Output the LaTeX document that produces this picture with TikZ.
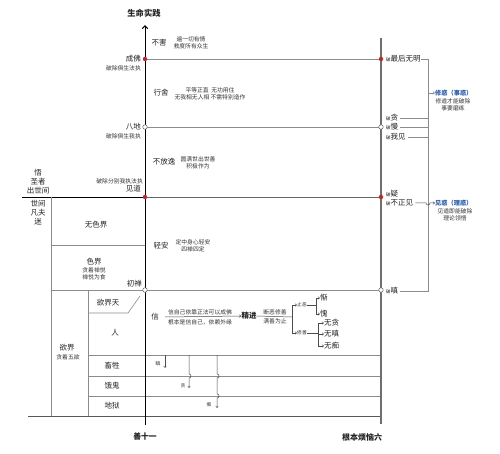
\documentclass[tikz,border=0pt]{standalone}
\usepackage{fontspec}
\setmainfont{Noto Sans CJK SC}
\usetikzlibrary{arrows.meta}
\definecolor{reddot}{HTML}{C0282D}
\definecolor{lineg}{HTML}{8C8C8C}
\definecolor{axisg}{HTML}{6E6E6E}
\definecolor{blu}{HTML}{2A5CA8}
\definecolor{txt}{HTML}{222222}
\newcommand{\pochar}{{\fontsize{4.5}{5}\selectfont 破}}
\begin{document}
\begin{tikzpicture}[x=1pt,y=-1pt,
  lbl/.style={font=\fontsize{7.5}{8.5}\selectfont, inner sep=0pt, text=txt},
  big/.style={font=\fontsize{8.3}{9}\selectfont\bfseries, inner sep=0pt, text=txt},
  sml/.style={font=\fontsize{5.8}{7.2}\selectfont, inner sep=0pt, align=center, text=black!80},
  tiny/.style={font=\fontsize{4.8}{5.5}\selectfont, inner sep=0pt, text=black!80},
  blab/.style={font=\fontsize{6.2}{7}\selectfont\bfseries, inner sep=0pt, text=blu},
  gline/.style={draw=lineg, line width=0.6pt},
  dline/.style={draw=black!65, line width=0.7pt},
  rdot/.style={circle, fill=reddot, inner sep=0pt, minimum size=4.5pt},
  wdot/.style={circle, draw=black!60, fill=white, inner sep=0pt, minimum size=4.5pt, line width=0.5pt},
  arr/.style={-{Straight Barb[length=1.6pt,width=2.6pt]}},
]
\fill[white] (0,0) rectangle (500,454);
\useasboundingbox (0,0) rectangle (500,454);

% ---------- key points ----------
\coordinate (axTop) at (145,25);
\coordinate (axBot) at (145,425);
\coordinate (rTop) at (381,38);
\coordinate (rBot) at (381,424);
\coordinate (pCF) at (145,59);   \coordinate (pCFr) at (381,59);
\coordinate (pBD) at (145,127);  \coordinate (pBDr) at (381,127);
\coordinate (pJDl) at (22,197);  \coordinate (pJD) at (145,197); \coordinate (pJDr) at (381,197);
\coordinate (pCCl) at (51,290);  \coordinate (pCC) at (145,290); \coordinate (pCCr) at (381,290);
\coordinate (pL1t) at (51,197);  \coordinate (pL1b) at (51,416);
\coordinate (pL2t) at (88,290);  \coordinate (pL2b) at (88,416);
\coordinate (pSEl) at (51,245);  \coordinate (pSEr) at (145,245);
\coordinate (pBotL) at (28,416); \coordinate (pBotR) at (381,416);
\coordinate (pTl) at (88,313);   \coordinate (pTm) at (128,313); \coordinate (pTd) at (140,296);
\coordinate (pRl) at (88,355);   \coordinate (pRr) at (381,355);
\coordinate (pXl) at (88,376);   \coordinate (pXr) at (381,376);
\coordinate (pGl) at (88,396);   \coordinate (pGr) at (381,396);

% ---------- frame lines ----------
\draw[gline] (pCF) -- (pCFr);
\draw[gline] (pBD) -- (pBDr);
\draw[line width=0.9pt] (pJDl) -- (pJD);
\draw[draw=black!60, line width=0.9pt] (pJD) -- (pJDr);
\draw[gline] (pCCl) -- (pCCr);
\draw[gline] (pL1t) -- (pL1b);
\draw[gline] (pL2t) -- (pL2b);
\draw[gline] (pSEl) -- (pSEr);
\draw[gline] (pTl) -- (pTm) -- (pTd);
\draw[gline] (pRl) -- (pRr);
\draw[gline] (pXl) -- (pXr);
\draw[gline] (pGl) -- (pGr);
\draw[dline] (pBotL) -- (pBotR);
\draw[line width=1pt, -{Straight Barb[length=3pt,width=5.5pt]}] (axBot) -- (axTop);
\draw[draw=axisg, line width=1.3pt] (rBot) -- (rTop);

% ---------- dots ----------
\node[rdot] (dCF) at (pCF) {};
\node[rdot] (dCFr) at (pCFr) {};
\node[wdot] (dBD) at (pBD) {};
\node[wdot] (dBDr) at (pBDr) {};
\node[rdot] (dJD) at (pJD) {};
\node[rdot] (dJDr) at (pJDr) {};
\node[wdot] (dCC) at (pCC) {};
\node[wdot] (dCCr) at (pCCr) {};

% ---------- titles ----------
\node[big] (tTop) at (144,13) {生命实践};
\node[lbl, font=\fontsize{7.8}{8.5}\selectfont\bfseries] (tShan) at (145,437) {善十一};
\node[lbl, font=\fontsize{8}{8.5}\selectfont\bfseries] (tGen) at (362,437) {根本烦恼六};

% ---------- left-of-axis labels ----------
\node[lbl, anchor=east] (lCF) at (141,59) {成佛};
\node[sml, anchor=east] (lCFs) at (141,68) {破除俱生法执};
\node[lbl, anchor=east] (lBD) at (141,127) {八地};
\node[sml, anchor=east] (lBDs) at (141,136) {破除俱生我执};
\node[sml, anchor=east] (lJDs) at (143,181) {破除分别我执法执};
\node[lbl, anchor=east] (lJD) at (141,189) {见道};
\node[lbl, anchor=east] (lCC) at (142,284) {初禅};

\node[lbl] (lWu) at (38,173) {悟};
\node[lbl] (lSZ) at (38,182) {圣者};
\node[lbl] (lCS) at (38,191) {出世间};
\node[lbl] (lSJ) at (38,204) {世间};
\node[lbl] (lFF) at (38,213) {凡夫};
\node[lbl] (lMi) at (38,222) {迷};

\node[lbl] (lWSJ) at (96,225) {无色界};
\node[lbl] (lSE) at (94,262) {色界};
\node[sml] (lSEs) at (94,273.5) {贪着禅悦\\禅悦为食};
\node[lbl] (lYJT) at (108,303) {欲界天};
\node[lbl] (lRen) at (115,333) {人};
\node[lbl] (lYJ) at (67,348) {欲界};
\node[sml] (lYJs) at (68,357) {贪着五欲};
\node[lbl] (lCS2) at (112,366) {畜牲};
\node[lbl] (lEG) at (112,386) {饿鬼};
\node[lbl] (lDY) at (112,406) {地狱};

% ---------- middle labels ----------
\node[lbl] (mBH) at (159,43) {不害};
\node[sml] (mBHs) at (191,43) {遍一切有情\\救度所有众生};
\node[lbl] (mXS) at (161,93) {行舍};
\node[sml] (mXSs) at (210,93.5) {平等正直\ \ 无功用住\\无我相无人相\ 不需特别造作};
\node[lbl] (mBFY) at (164,162) {不放逸};
\node[sml] (mBFYs) at (198,163) {圆满世出世善\\积极作为};
\node[lbl] (mQA) at (161,246) {轻安};
\node[sml] (mQAs) at (193,245.5) {定中身心轻安\\四禅四定};

% ---------- 信 / 精进 ----------
\node[lbl] (mXin) at (155,317) {信};
\node[sml] (mXin1) at (200,312) {信自己依靠正法可以成佛};
\node[sml] (mXin2) at (200,322) {根本是信自己，依赖外缘};
\node[lbl, font=\fontsize{7.5}{8.5}\selectfont\bfseries] (mJJ) at (249,316) {精进};
\coordinate (xinL) at (165,317);
\draw[draw=black!70, line width=0.5pt, arr] (xinL) -- (mJJ.west);
\node[sml] (mJJ1) at (275,312.5) {断恶修善};
\node[sml] (mJJ2) at (275,321) {满善为止};
\coordinate (jB) at (292,317);
\coordinate (jBt) at (292,305);
\coordinate (jBb) at (292,333);
\node[tiny, anchor=west] (mZE) at (297,305) {止恶};
\node[tiny, anchor=west] (mXShan) at (297,333) {修善};
\draw[draw=black!70, line width=0.5pt] (mJJ.east) -- (jB);
\draw[draw=black!70, line width=0.5pt] (jBt) -- (jBb);
\draw[draw=black!70, line width=0.5pt, arr] (jBt) -- (mZE.west);
\draw[draw=black!70, line width=0.5pt, arr] (jBb) -- (mXShan.west);

\coordinate (zB) at (316,305);
\coordinate (zBt) at (316,298);
\coordinate (zBb) at (316,314);
\node[lbl, anchor=west] (mCan) at (320,298) {惭};
\node[lbl, anchor=west] (mKui) at (320,314) {愧};
\draw[draw=black!70, line width=0.5pt] (mZE.east) -- (zB);
\draw[draw=black!70, line width=0.5pt] (zBt) -- (zBb);
\draw[draw=black!70, line width=0.5pt, arr] (zBt) -- (mCan.west);
\draw[draw=black!70, line width=0.5pt, arr] (zBb) -- (mKui.west);

\coordinate (sB) at (318,333);
\coordinate (sBt) at (318,323);
\coordinate (sBm) at (318,334);
\coordinate (sBb) at (318,346);
\node[lbl, anchor=west] (mWT) at (324,323) {无贪};
\node[lbl, anchor=west] (mWC) at (324,334) {无嗔};
\node[lbl, anchor=west] (mWCh) at (324,346) {无痴};
\draw[draw=black!70, line width=0.5pt] (mXShan.east) -- (sB);
\draw[draw=black!70, line width=0.5pt] (sBt) -- (sBb);
\draw[draw=black!70, line width=0.5pt, arr] (sBt) -- (mWT.west);
\draw[draw=black!70, line width=0.5pt, arr] (sBm) -- (mWC.west);
\draw[draw=black!70, line width=0.5pt, arr] (sBb) -- (mWCh.west);

% ---------- 瞋 贪 痴 arrows ----------
\node[tiny] (bChen) at (158,364) {瞋};
\node[tiny] (bTan) at (183,386) {贪};
\node[tiny] (bChi) at (209,405) {痴};
\coordinate (aC1) at (165,355); \coordinate (aC2) at (165,368);
\coordinate (aT1) at (189,355); \coordinate (aT2) at (189,388);
\coordinate (aH1) at (217,355); \coordinate (aH2) at (217,408);
\draw[draw=black!70, line width=0.5pt, arr] (aC1) -- (aC2);
\draw[draw=black!70, line width=0.5pt, arr] (aT1) -- (189,374) arc (-90:90:2) -- (aT2);
\draw[draw=black!70, line width=0.5pt, arr] (aH1) -- (217,374) arc (-90:90:2) -- (217,394) arc (-90:90:2) -- (aH2);

% ---------- right side ----------
\node[lbl, anchor=west] (rWM) at (386,59) {\pochar 最后无明};
\node[lbl, anchor=west] (rTan) at (386,118) {\pochar 贪};
\node[lbl, anchor=west] (rMan) at (386,127) {\pochar 慢};
\node[lbl, anchor=west] (rWJ) at (386,137) {\pochar 我见};
\node[lbl, anchor=west] (rYi) at (386,194) {\pochar 疑};
\node[lbl, anchor=west] (rBZJ) at (386,203) {\pochar 不正见};
\node[lbl, anchor=west] (rChen) at (386,291) {\pochar 嗔};
\coordinate (bx) at (428,0);
\draw[gline] (rWM.east) -- (rWM.east -| bx) -- (rChen.east -| bx) -- ([xshift=2pt]rChen.east);
\draw[gline] ([xshift=2pt]rTan.east) -- (rTan.east -| bx);
\draw[gline] ([xshift=2pt]rMan.east) -- (rMan.east -| bx);
\draw[gline] ([xshift=2pt]rWJ.east) -- (rWJ.east -| bx);

\node[blab, anchor=west] (rXH) at (435,93) {修惑（事惑）};
\node[sml] (rXHs) at (453,104.5) {修道才能破除\\事要磨练};
\node[blab, anchor=west] (rJH) at (435,203) {见惑（理惑）};
\node[sml] (rJHs) at (455,214.5) {见道即能破除\\理论领悟};
\coordinate (xhS) at (428,93);
\draw[gline, arr] (xhS) -- (rXH.west);
\draw[draw=black!70, line width=0.5pt, arr] ([xshift=2pt]rBZJ.east) -- (426,203) arc (180:0:2) -- (rJH.west);
\end{tikzpicture}
\end{document}
